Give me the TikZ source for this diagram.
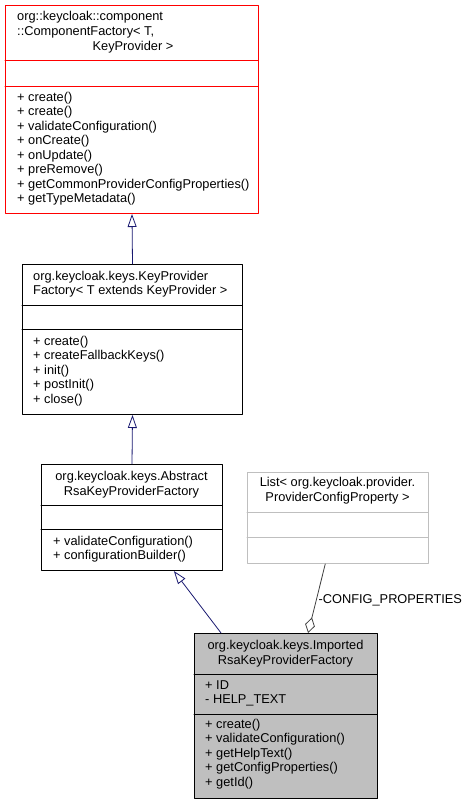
\documentclass[tikz,border=0pt]{standalone}
\usepackage{fontspec}
\setmainfont{Liberation Sans}
\usetikzlibrary{arrows.meta,calc}
\definecolor{edgeblue}{RGB}{25,25,112}
\definecolor{aggrgray}{RGB}{64,64,64}
\definecolor{lightframe}{RGB}{191,191,191}
\definecolor{boxfill}{RGB}{191,191,191}
\begin{document}
\begin{tikzpicture}[x=1pt,y=-1pt,font=\fontsize{12.8}{14.5}\selectfont,line join=round,line cap=round,
	txt/.style={inner sep=0pt,anchor=west},
	ctxt/.style={inner sep=0pt},
	cls/.style={draw,line width=1pt,anchor=north west,inner sep=0pt},
	inherit/.style={draw=edgeblue,line width=0.8pt,-{Triangle[open,length=13pt,width=9pt]}},
	aggr/.style={draw=aggrgray,line width=0.8pt,-{Diamond[open,length=16pt,width=10pt]}}]
	\useasboundingbox (0,0) rectangle (468,804);
	% class boxes
	\node[cls,draw=red,minimum width=253pt,minimum height=208pt] (compfact) at (5,5) {};
	\node[cls,minimum width=220pt,minimum height=150pt] (keyprovfact) at (22,264) {};
	\node[cls,minimum width=181pt,minimum height=106pt] (abstractrsa) at (41,464) {};
	\node[cls,draw=lightframe,minimum width=181pt,minimum height=91pt] (configlist) at (247,472) {};
	\node[cls,fill=boxfill,minimum width=183pt,minimum height=165pt] (importedrsa) at (194,633) {};
	% dividers
	\draw[red,line width=1pt] (5,60) -- (258,60) (5,86) -- (258,86);
	\draw[line width=1pt] (22,305) -- (242,305) (22,329) -- (242,329);
	\draw[line width=1pt] (41,505) -- (222,505) (41,529) -- (222,529);
	\draw[lightframe,line width=1pt] (247,512) -- (428,512) (247,537) -- (428,537);
	\draw[line width=1pt] (194,674) -- (377,674) (194,714) -- (377,714);
	% org::keycloak::component::ComponentFactory
	\node[txt] at (17,17) {org::keycloak::component};
	\node[txt] at (17,32) {::ComponentFactory< T,};
	\node[ctxt] at (133,47) {KeyProvider >};
	\foreach \m [count=\i from 0] in {create(),create(),validateConfiguration(),onCreate(),onUpdate(),preRemove(),getCommonProviderConfigProperties(),getTypeMetadata()}
		\node[txt] at (17,{98+14.5*\i}) {+ \m};
	% org.keycloak.keys.KeyProviderFactory
	\node[txt] at (33,277) {org.keycloak.keys.KeyProvider};
	\node[txt] at (33,291) {Factory< T extends KeyProvider >};
	\foreach \m [count=\i from 0] in {create(),createFallbackKeys(),init(),postInit(),close()}
		\node[txt] at (33,{342+14.5*\i}) {+ \m};
	% org.keycloak.keys.AbstractRsaKeyProviderFactory
	\node[ctxt] at (131.5,477) {org.keycloak.keys.Abstract};
	\node[ctxt] at (131.5,492) {RsaKeyProviderFactory};
	\foreach \m [count=\i from 0] in {validateConfiguration(),configurationBuilder()}
		\node[txt] at (53,{542+14.5*\i}) {+ \m};
	% List< ProviderConfigProperty >
	\node[ctxt] at (337.5,483) {List< org.keycloak.provider.};
	\node[ctxt] at (337.5,498) {ProviderConfigProperty >};
	% org.keycloak.keys.ImportedRsaKeyProviderFactory
	\node[ctxt] at (285.5,646) {org.keycloak.keys.Imported};
	\node[ctxt] at (285.5,661) {RsaKeyProviderFactory};
	\node[txt] at (205,685) {+ ID};
	\node[txt] at (205,700) {- HELP\_TEXT};
	\foreach \m [count=\i from 0] in {create(),validateConfiguration(),getHelpText(),getConfigProperties(),getId()}
		\node[txt] at (205,{725+14.5*\i}) {+ \m};
	% relations
	\draw[inherit] (keyprovfact.north) -- (compfact.south);
	\draw[inherit] (abstractrsa.north) -- (keyprovfact.south);
	\draw[inherit] ($(importedrsa.north west)!0.147!(importedrsa.north east)$) -- ($(abstractrsa.south west)!0.73!(abstractrsa.south east)$);
	\draw[aggr] ($(configlist.south west)!0.43!(configlist.south east)$) -- node[pos=0.53,anchor=west,inner sep=2pt] {-CONFIG\_PROPERTIES} ($(importedrsa.north west)!0.62!(importedrsa.north east)$);
\end{tikzpicture}
\end{document}
